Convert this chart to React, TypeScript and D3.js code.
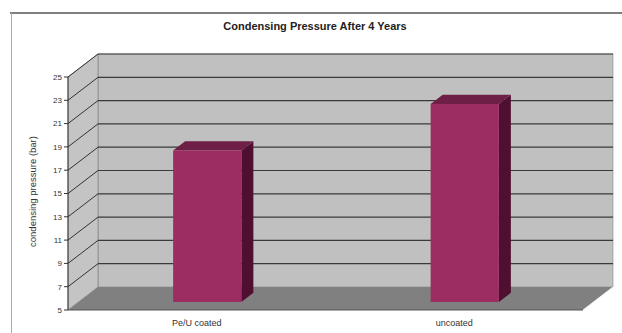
import React from 'react';
import * as d3 from 'd3';

const title = 'Condensing Pressure After 4 Years';
const yLabel = 'condensing pressure (bar)';
const categories = ['Pe/U coated', 'uncoated'];
const pressures = [18, 22];
const yTicks = [5, 7, 9, 11, 13, 15, 17, 19, 21, 23, 25];

const W = 622;
const H = 333;
const front = { left: 68, right: 583, top: 77, bottom: 310 };
const depth = { dx: 30, dy: -23 };

export default function App() {
  const x = d3.scaleBand<string>()
    .domain(categories)
    .range([front.left, front.right])
    .paddingInner(0)
    .paddingOuter(0);

  const y = d3.scaleLinear().domain([5, 25]).range([front.bottom, front.top]);

  // depth position 0 = front plane, 1 = back wall
  const z = d3.scaleLinear().domain([0, 1]).range([0, 1]);
  const off = (t: number) => [z(t) * depth.dx, z(t) * depth.dy];

  const [bx, by] = off(1);
  const backLeft = front.left + bx;
  const backRight = front.right + bx;

  const barW = x.bandwidth() * 0.265;
  const zFront = 0.35;
  const zBack = 0.75;

  const pts = (p: number[][]) => p.map(d => d.join(',')).join(' ');

  return (
    <svg
      width={W}
      height={H}
      style={{ position: 'absolute', left: 0, top: 0, background: '#fff', fontFamily: 'Arial, "Liberation Sans", sans-serif' }}
    >
      {/* chart frame */}
      <line x1={10} x2={W} y1={13} y2={13} stroke="#555" strokeWidth={1.5} />
      <line x1={11.5} x2={11.5} y1={13} y2={H} stroke="#aaa" strokeWidth={1} />

      <text x={315} y={30} textAnchor="middle" fontSize={11} fontWeight="bold" fill="#222">{title}</text>

      {/* walls */}
      <rect x={backLeft} y={y(25) + by} width={backRight - backLeft} height={y(5) - y(25)} fill="#c0c0c0" stroke="#888" strokeWidth={0.6} />
      <polygon
        points={pts([[front.left, y(5)], [front.left, y(25)], [backLeft, y(25) + by], [backLeft, y(5) + by]])}
        fill="#c4c4c4" stroke="#777" strokeWidth={0.6}
      />
      <polygon
        points={pts([[front.left, y(5)], [front.right, y(5)], [backRight, y(5) + by], [backLeft, y(5) + by]])}
        fill="#808080"
      />

      {/* gridlines on side and back walls */}
      {yTicks.filter(t => t > 5).map(t => (
        <g key={t}>
          <line x1={front.left} y1={y(t)} x2={backLeft} y2={y(t) + by} stroke="#333" strokeWidth={1} />
          <line x1={backLeft} y1={y(t) + by} x2={backRight} y2={y(t) + by} stroke="#3a3a3a" strokeWidth={1.2} />
        </g>
      ))}

      {/* bars */}
      {categories.map((c, i) => {
        const cx = (x(c) as number) + x.bandwidth() / 2;
        const [fx, fy] = off(zFront);
        const [kx, ky] = off(zBack);
        const l = cx - barW / 2 + fx;
        const r = cx + barW / 2 + fx;
        const top = y(pressures[i]) + fy;
        const bot = y(5) + fy;
        const dX = kx - fx;
        const dY = ky - fy;
        return (
          <g key={c}>
            <polygon points={pts([[r, top], [r + dX, top + dY], [r + dX, bot + dY], [r, bot]])} fill="#4f0f30" />
            <polygon points={pts([[l, top], [l + dX, top + dY], [r + dX, top + dY], [r, top]])} fill="#6e1f45" />
            <rect x={l} y={top} width={r - l} height={bot - top} fill="#9b2d62" />
          </g>
        );
      })}

      {/* front floor edge */}
      <line x1={front.left} x2={front.right} y1={y(5)} y2={y(5)} stroke="#555" strokeWidth={1} />
      <line x1={front.right} y1={y(5)} x2={backRight} y2={y(5) + by} stroke="#eee" strokeWidth={1} />

      {/* y axis */}
      <line x1={front.left} x2={front.left} y1={front.top} y2={front.bottom} stroke="#333" />
      {yTicks.map(t => (
        <g key={t}>
          <line x1={front.left - 4} x2={front.left} y1={y(t)} y2={y(t)} stroke="#333" />
          <text x={front.left - 6} y={y(t)} dy="0.35em" textAnchor="end" fontSize={8} fill="#333">{t}</text>
        </g>
      ))}
      <text
        transform={`translate(33,${(front.top + front.bottom) / 2 - 2}) rotate(-90)`}
        textAnchor="middle" dy="0.35em" fontSize={9.5} fill="#333"
      >{yLabel}</text>

      {/* category labels */}
      {categories.map(c => (
        <text key={c} x={(x(c) as number) + x.bandwidth() / 2} y={326} textAnchor="middle" fontSize={9} fill="#333">{c}</text>
      ))}
    </svg>
  );
}
